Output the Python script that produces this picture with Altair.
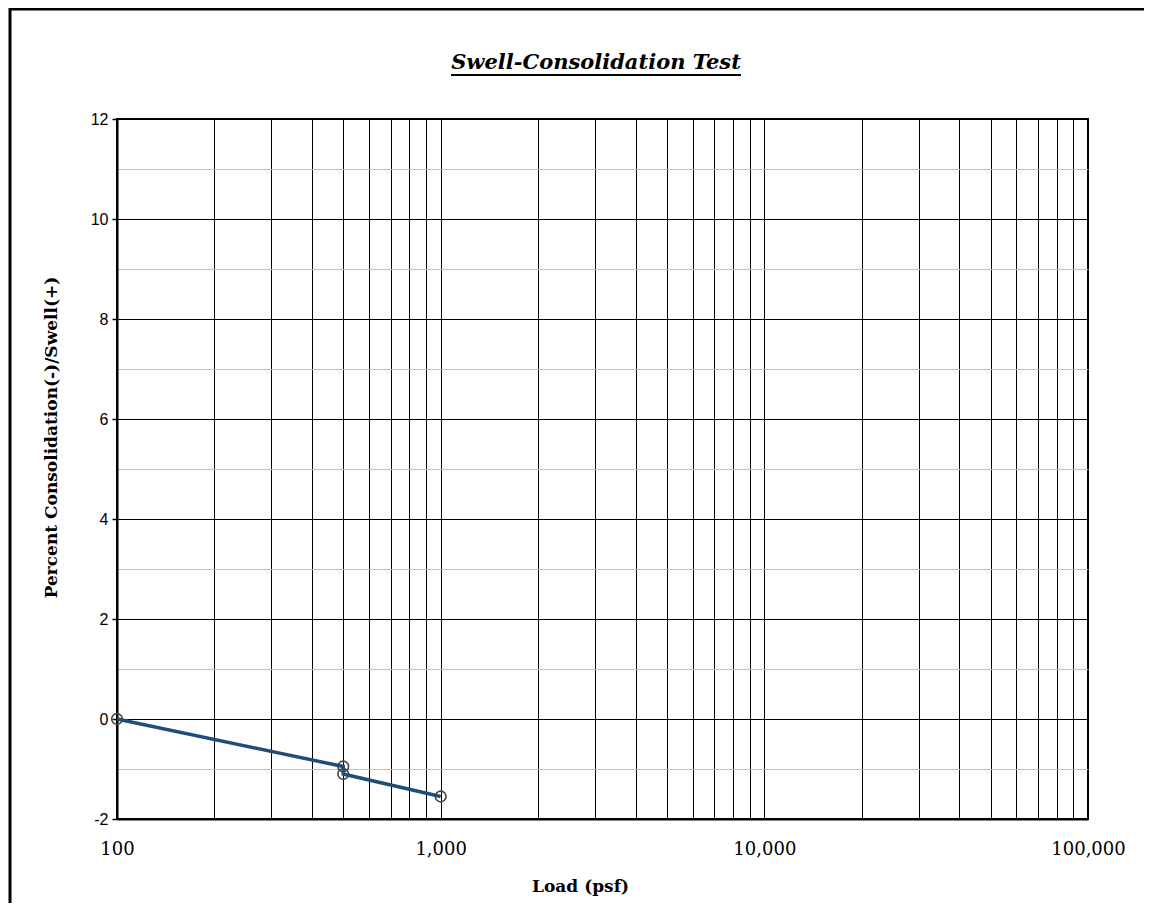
import altair as alt
import pandas as pd

# data
loads = [100, 500, 500, 1000]
percent = [0.0, -0.95, -1.1, -1.55]
order = [0, 1, 2, 3]

x_grid_values = [100, 200, 300, 400, 500, 600, 700, 800, 900,
                 1000, 2000, 3000, 4000, 5000, 6000, 7000, 8000, 9000,
                 10000, 20000, 30000, 40000, 50000, 60000, 70000, 80000, 90000,
                 100000]
y_values = list(range(-2, 13))

title_text = "Swell-Consolidation Test"
x_title = "Load (psf)"
y_title = "Percent Consolidation(-)/Swell(+)"

df = pd.DataFrame({"load": loads, "pct": percent, "ord": order})

SERIF = "DejaVu Serif"
SANS = "Liberation Sans"

x_enc = alt.X(
    "load:Q",
    scale=alt.Scale(type="log", domain=[100, 100000]),
    axis=alt.Axis(
        title=x_title,
        values=x_grid_values,
        format=",",
        labelExpr="(datum.value == 100 || datum.value == 1000 || datum.value == 10000 || datum.value == 100000) ? datum.label : ''",
        grid=True,
        gridColor="black",
        gridWidth=1,
        gridOpacity=1,
        ticks=False,
        tickSize=0,
        domainColor="black",
        domainWidth=2,
        labelFont=SERIF,
        labelFontSize=18,
        labelColor="black",
        labelPadding=21,
        labelFlush=False,
        labelOverlap=False,
        titleFont=SERIF,
        titleFontSize=17,
        titleFontWeight="bold",
        titleColor="black",
        titlePadding=20,
        titleX=463,
        titleAnchor="middle",
    ),
)

y_enc = alt.Y(
    "pct:Q",
    scale=alt.Scale(domain=[-2, 12], nice=False, zero=False),
    axis=alt.Axis(
        title=y_title,
        values=y_values,
        labelExpr="datum.value % 2 == 0 ? ('' + datum.value) : ''",
        grid=True,
        gridColor=alt.condition("datum.value % 2 == 0", alt.value("black"), alt.value("#c0c0c0")),
        gridWidth=1,
        gridOpacity=1,
        tickColor=alt.condition("datum.value % 2 == 0", alt.value("black"), alt.value("transparent")),
        tickSize=5,
        tickWidth=1.5,
        domainColor="black",
        domainWidth=2,
        labelFont=SANS,
        labelFontSize=16,
        labelColor="black",
        labelPadding=4,
        labelOverlap=False,
        labelFlush=False,
        titleFont=SERIF,
        titleFontSize=17,
        titleFontWeight="bold",
        titleColor="black",
        titlePadding=30,
        titleY=318,
        titleAnchor="middle",
    ),
)

base = alt.Chart(df)

line = base.mark_line(color="#1f4e79", strokeWidth=3.5).encode(
    x=x_enc, y=y_enc, order="ord:Q"
)

points = base.mark_point(
    shape="circle", filled=False, size=115, stroke="#444444", strokeWidth=1.6, opacity=1
).encode(x="load:Q", y="pct:Q")

deco = pd.DataFrame({"t": [title_text]})

title = alt.Chart(deco).mark_text(
    font=SERIF, fontSize=21, fontStyle="italic", fontWeight="bold",
    color="black", align="center", baseline="alphabetic",
).encode(text="t:N", x=alt.value(479), y=alt.value(-50))

underline = alt.Chart(deco).mark_rule(color="black", strokeWidth=2).encode(
    x=alt.value(334), x2=alt.value(624), y=alt.value(-44)
)

border_left = alt.Chart(deco).mark_rule(color="black", strokeWidth=3).encode(
    x=alt.value(-107), y=alt.value(-111), y2=alt.value(790)
)
border_top = alt.Chart(deco).mark_rule(color="black", strokeWidth=3).encode(
    x=alt.value(-108), x2=alt.value(1027), y=alt.value(-110)
)

chart = alt.layer(border_left, border_top, line, points, title, underline).properties(
    width=971,
    height=700,
    autosize=alt.AutoSizeParams(type="none"),
    padding={"left": 109, "top": 111, "right": 58, "bottom": 84},
    background="white",
).configure_view(stroke="black", strokeWidth=2)

chart.save("out.html", embed_options={"renderer": "svg", "actions": False})
